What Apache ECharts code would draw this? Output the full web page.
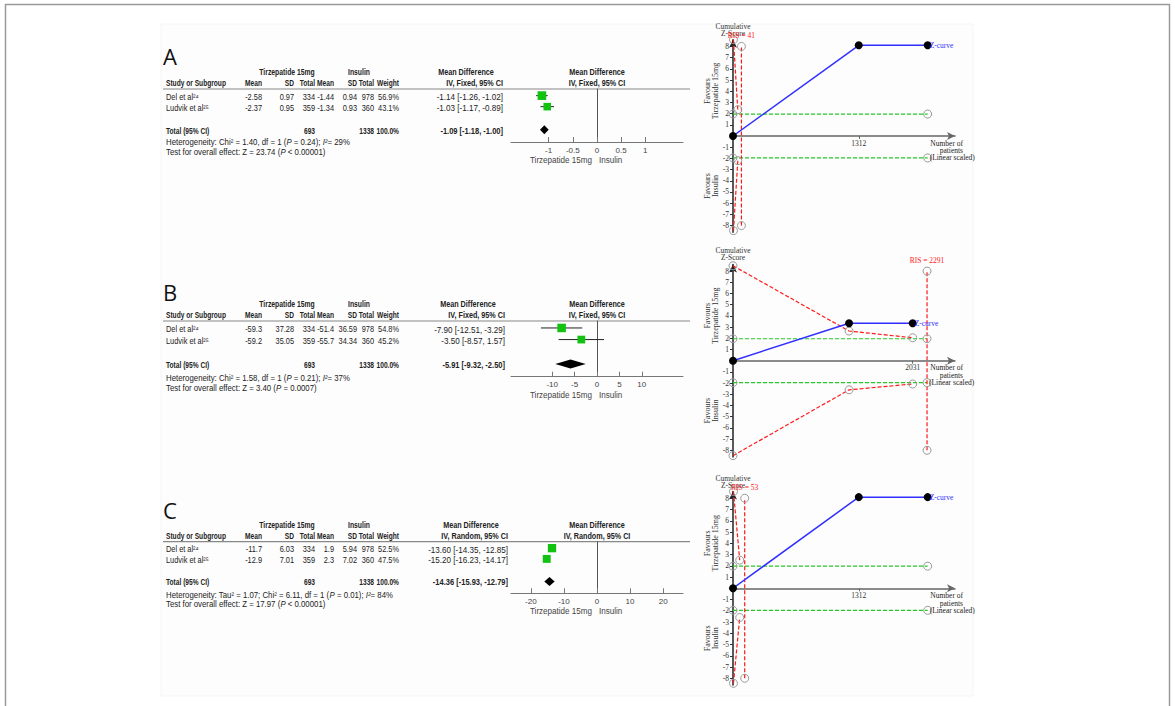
<!DOCTYPE html>
<html><head><meta charset="utf-8">
<script src="https://cdn.jsdelivr.net/npm/echarts@6/dist/echarts.min.js"></script>
<style>html,body{margin:0;padding:0;background:#fff}#c{width:1175px;height:706px}</style>
</head><body><div id="c"></div>
<script>
// ---------------- DATA ----------------
const studies = ['Del et al²⁴', 'Ludvik et al²⁵'];
const colHeaders = ['Study or Subgroup', 'Mean', 'SD', 'Total', 'Mean', 'SD', 'Total', 'Weight'];

// Panel A
const aTirzMean = [-2.58, -2.37], aTirzSD = [0.97, 0.95], aTirzN = [334, 359];
const aInsMean = [-1.44, -1.34], aInsSD = [0.94, 0.93], aInsN = [978, 360];
const aWeight = [56.9, 43.1];
const aMD = [-1.14, -1.03], aLo = [-1.26, -1.17], aHi = [-1.02, -0.89];
const aTotal = [-1.09, -1.18, -1.00];
const aTotN = [693, 1338];
const aHet = ['Chi² = 1.40, df = 1 (', 'P', ' = 0.24); ', 'I²', '= 29%'];
const aTest = ['Z = 23.74 (', 'P', ' < 0.00001)'];
const aTicks = [-1, -0.5, 0, 0.5, 1];

// Panel B
const bTirzMean = [-59.3, -59.2], bTirzSD = [37.28, 35.05], bTirzN = [334, 359];
const bInsMean = [-51.4, -55.7], bInsSD = [36.59, 34.34], bInsN = [978, 360];
const bWeight = [54.8, 45.2];
const bMD = [-7.90, -3.50], bLo = [-12.51, -8.57], bHi = [-3.29, 1.57];
const bTotal = [-5.91, -9.32, -2.50];
const bTotN = [693, 1338];
const bHet = ['Chi² = 1.58, df = 1 (', 'P', ' = 0.21); ', 'I²', '= 37%'];
const bTest = ['Z = 3.40 (', 'P', ' = 0.0007)'];
const bTicks = [-10, -5, 0, 5, 10];

// Panel C
const cTirzMean = [-11.7, -12.9], cTirzSD = [6.03, 7.01], cTirzN = [334, 359];
const cInsMean = [1.9, 2.3], cInsSD = [5.94, 7.02], cInsN = [978, 360];
const cWeight = [52.5, 47.5];
const cMD = [-13.60, -15.20], cLo = [-14.35, -16.23], cHi = [-12.85, -14.17];
const cTotal = [-14.36, -15.93, -12.79];
const cTotN = [693, 1338];
const cHet = ['Tau² = 1.07; Chi² = 6.11, df = 1 (', 'P', ' = 0.01); ', 'I²', '= 84%'];
const cTest = ['Z = 17.97 (', 'P', ' < 0.00001)'];
const cTicks = [-20, -10, 0, 10, 20];

// Trial sequential analysis
const tsaPatients = [0, 1312, 2031];
const aZ = [0, 8.1, 8.1];
const bZ = [0, 3.35, 3.35];
const cZ = [0, 8.1, 8.1];
const aBoundX = [5, 50], aUpper = [8.6, 2.35], aLower = [-8.45, -2.2];
const bBoundX = [0, 1312, 2031], bUpper = [8.48, 2.65, 2.05], bLower = [-8.48, -2.6, -2.08];
const cBoundX = [5, 70], cUpper = [8.6, 2.5], cLower = [-8.45, -2.6];
const risLabel = [41, 2291, 53];
const risLinePos = [88, 2193, 122];
const greenEnd = [2031, 2193, 2031];
const tsaTickX = [[1312], [2031], [1312]];
const zTicks = [-8, -7, -6, -5, -4, -3, -2, -1, 0, 1, 2, 3, 4, 5, 6, 7, 8];
const zLabels = [-8, -7, -6, -5, -4, -3, -2, -1, 1, 2, 3, 4, 5, 6, 7, 8];

// ---------------- LAYOUT ----------------
const SANS = '"Liberation Sans", Arial, sans-serif';
const SERIF = '"Liberation Serif", "Times New Roman", serif';
const SX_HEAD = 0.78, SX_VAL = 0.87, SX_MD = 0.95, SX_NOTE = 0.92;
const ROW_MIN = 0.4, ROW_MAX = 5.2, ROWS = [1, 2], TOTAL_ROW = 4.1;
const COL = {study: 166, tMean: 262, tSD: 294, tN: 315, iMean: 334, iSD: 357, iN: 374, w: 399,
  tCenter: 287, iCenter: 359, fLeft: 511, fWidth: 172, lineL: 163, lineR: 690};
const panels = [
  {letter: 'A', letterY: 56, h1: 72.5, h2: 83.5, Lh: 89, Ly: 142, het: 142.5, test: 152, model: 'Fixed', mdR: 503,
   tirzMean: aTirzMean, tirzSD: aTirzSD, tirzN: aTirzN, insMean: aInsMean, insSD: aInsSD, insN: aInsN,
   weight: aWeight, md: aMD, lo: aLo, hi: aHi, total: aTotal, totN: aTotN, hetT: aHet, testT: aTest,
   ticks: aTicks, xr: 1.78, meanDec: 2,
   tTop: 39.7, tH: 192.6, tMax: 2316, z: aZ, bx: aBoundX, up: aUpper, lw: aLower},
  {letter: 'B', letterY: 292, h1: 304, h2: 315, Lh: 321, Ly: 376.7, het: 378, test: 388, model: 'Fixed', mdR: 505,
   tirzMean: bTirzMean, tirzSD: bTirzSD, tirzN: bTirzN, insMean: bInsMean, insSD: bInsSD, insN: bInsN,
   weight: bWeight, md: bMD, lo: bLo, hi: bHi, total: bTotal, totN: bTotN, hetT: bHet, testT: bTest,
   ticks: bTicks, xr: 19.2, meanDec: 1,
   tTop: 264.4, tH: 192.6, tMax: 2509, z: bZ, bx: bBoundX, up: bUpper, lw: bLower},
  {letter: 'C', letterY: 510, h1: 525, h2: 536, Lh: 541.7, Ly: 593.3, het: 595, test: 604.5, model: 'Random', mdR: 508,
   tirzMean: cTirzMean, tirzSD: cTirzSD, tirzN: cTirzN, insMean: cInsMean, insSD: cInsSD, insN: cInsN,
   weight: cWeight, md: cMD, lo: cLo, hi: cHi, total: cTotal, totN: cTotN, hetT: cHet, testT: cTest,
   ticks: cTicks, xr: 26, meanDec: 1,
   tTop: 491.5, tH: 193.5, tMax: 2316, z: cZ, bx: cBoundX, up: cUpper, lw: cLower}
];

const grids = [], xAxes = [], yAxes = [], series = [], graphics = [];
function addText(x, y, text, opt, extra) {
  const st = Object.assign({text: text, fontSize: 8.5, fontFamily: SANS, fill: '#222',
    align: 'left', verticalAlign: 'middle'}, opt || {});
  st.textAlign = st.align; st.textVerticalAlign = st.verticalAlign;
  graphics.push(Object.assign({type: 'text', x: x, y: y, silent: true, z: 10, style: st}, extra || {}));
}
function tText(x, y, text, opt, sx) { addText(x, y, text, opt, {scaleX: sx}); }
function addLine(x1, y1, x2, y2, color, w) {
  graphics.push({type: 'line', silent: true, shape: {x1: x1, y1: y1, x2: x2, y2: y2},
    style: {stroke: color, lineWidth: w}});
}
const fmtMD = (m, l, h) => m.toFixed(2) + ' [' + l.toFixed(2) + ', ' + h.toFixed(2) + ']';

// frame
graphics.push({type: 'rect', silent: true, z: -10, shape: {x: 161, y: 24, width: 812, height: 672},
  style: {fill: '#fdfdfd', stroke: '#f5f5f5', lineWidth: 1}});
graphics.push({type: 'rect', silent: true, shape: {x: 5.5, y: 4.5, width: 1164, height: 720},
  style: {fill: 'none', stroke: '#9a9a9a', lineWidth: 1.5}});

panels.forEach((P, k) => {
  const fg = k * 2, tg = k * 2 + 1;
  const rowPix = idx => P.Lh + (idx - ROW_MIN) / (ROW_MAX - ROW_MIN) * (P.Ly - P.Lh);
  const B = (al) => ({fontWeight: 'bold', align: al || 'left'});
  const R = {align: 'right'};
  const mdCenter = P.mdR - 37;
  const fCenter = COL.fLeft + COL.fWidth / 2;
  addText(163, P.letterY, P.letter, {fontSize: 22, fontFamily: '"Open Sans", "Liberation Sans", sans-serif', fill: '#111'});
  tText(COL.tCenter, P.h1, 'Tirzepatide 15mg', B('center'), 0.8);
  tText(COL.iCenter, P.h1, 'Insulin', B('center'), 0.8);
  tText(mdCenter, P.h1, 'Mean Difference', B('center'), 0.85);
  tText(fCenter, P.h1, 'Mean Difference', B('center'), 0.85);
  const hx = [COL.study, COL.tMean, COL.tSD, COL.tN, COL.iMean, COL.iSD, COL.iN, COL.w];
  colHeaders.forEach((h, i) => tText(hx[i], P.h2, h, B(i === 0 ? 'left' : 'right'), SX_HEAD));
  const ivTxt = 'IV, ' + P.model + ', 95% CI';
  tText(P.mdR, P.h2, ivTxt, B('right'), 0.85);
  tText(fCenter, P.h2, ivTxt, B('center'), 0.85);
  addLine(COL.lineL, P.Lh, COL.lineR, P.Lh, '#888', 1.2);
  studies.forEach((s, i) => {
    const y = rowPix(ROWS[i]) + 1.5;
    tText(COL.study, y, s, {}, SX_VAL);
    tText(COL.tMean, y, P.tirzMean[i].toFixed(P.meanDec), R, SX_VAL);
    tText(COL.tSD, y, P.tirzSD[i].toFixed(2), R, SX_VAL);
    tText(COL.tN, y, String(P.tirzN[i]), R, SX_VAL);
    tText(COL.iMean, y, P.insMean[i].toFixed(P.meanDec), R, SX_VAL);
    tText(COL.iSD, y, P.insSD[i].toFixed(2), R, SX_VAL);
    tText(COL.iN, y, String(P.insN[i]), R, SX_VAL);
    tText(COL.w, y, P.weight[i].toFixed(1) + '%', R, SX_VAL);
    tText(P.mdR, y, fmtMD(P.md[i], P.lo[i], P.hi[i]), R, SX_MD);
  });
  const ty = rowPix(TOTAL_ROW) + 1;
  tText(COL.study, ty, 'Total (95% CI)', B('left'), SX_HEAD);
  tText(COL.tN, ty, String(P.totN[0]), B('right'), SX_HEAD);
  tText(COL.iN, ty, String(P.totN[1]), B('right'), SX_HEAD);
  tText(COL.w, ty, '100.0%', B('right'), SX_HEAD);
  tText(P.mdR, ty, fmtMD(P.total[0], P.total[1], P.total[2]), B('right'), SX_MD * 0.93);
  const rich = {i: {fontStyle: 'italic', fontSize: 8.5, fontFamily: SANS, fill: '#222'},
                n: {fontSize: 8.5, fontFamily: SANS, fill: '#222'}};
  const h = P.hetT;
  tText(COL.study, P.het, '{n|Heterogeneity: ' + h[0] + '}{i|' + h[1] + '}{n|' + h[2] + '}{i|' + h[3] + '}{n|' + h[4] + '}', {rich: rich}, SX_NOTE);
  const t = P.testT;
  tText(COL.study, P.test, '{n|Test for overall effect: ' + t[0] + '}{i|' + t[1] + '}{n|' + t[2] + '}', {rich: rich}, SX_NOTE);
  tText(fCenter - 5, P.Ly + 18, 'Tirzepatide 15mg', {align: 'right', fill: '#444'}, 0.95);
  tText(fCenter + 2, P.Ly + 18, 'Insulin', {fill: '#444'}, 0.95);

  // ---- forest grid ----
  grids.push({left: COL.fLeft, top: P.Lh, width: COL.fWidth, height: P.Ly - P.Lh});
  xAxes.push({gridIndex: fg, type: 'value', min: -P.xr, max: P.xr, position: 'bottom',
    axisLine: {onZero: false, lineStyle: {color: '#777', width: 1}},
    axisTick: {customValues: P.ticks, inside: true, length: 5, lineStyle: {color: '#777'}},
    axisLabel: {customValues: P.ticks, fontSize: 8, fontFamily: SANS, color: '#444', margin: 4, formatter: v => String(v)},
    splitLine: {show: false}});
  yAxes.push({gridIndex: fg, type: 'value', inverse: true, min: ROW_MIN, max: ROW_MAX,
    axisLine: {show: true, onZero: true, lineStyle: {color: '#555', width: 1}},
    axisTick: {show: false}, axisLabel: {show: false}, splitLine: {show: false}});
  series.push({type: 'custom', xAxisIndex: fg, yAxisIndex: fg, clip: false, z: 5,
    encode: {x: 0, y: 1},
    data: P.md.map((m, i) => [m, ROWS[i], P.lo[i], P.hi[i], P.weight[i]]),
    renderItem: function (params, api) {
      const c = api.coord([api.value(0), api.value(1)]);
      const l = api.coord([api.value(2), api.value(1)]);
      const r = api.coord([api.value(3), api.value(1)]);
      const s = 11.5 * Math.sqrt(api.value(4) / 100);
      return {type: 'group', children: [
        {type: 'line', shape: {x1: l[0], y1: c[1], x2: r[0], y2: c[1]}, style: {stroke: '#222', lineWidth: 1}},
        {type: 'rect', shape: {x: c[0] - s / 2, y: c[1] - s / 2, width: s, height: s}, style: {fill: '#11c211'}}
      ]};
    }});
  series.push({type: 'custom', xAxisIndex: fg, yAxisIndex: fg, clip: false, z: 5,
    encode: {x: 0, y: 1},
    data: [[P.total[0], TOTAL_ROW, P.total[1], P.total[2]]],
    renderItem: function (params, api) {
      const c = api.coord([api.value(0), api.value(1)]);
      const l = api.coord([api.value(2), api.value(1)]);
      const r = api.coord([api.value(3), api.value(1)]);
      const hh = 4.5;
      return {type: 'polygon', shape: {points: [[l[0], c[1]], [c[0], c[1] - hh], [r[0], c[1]], [c[0], c[1] + hh]]},
        style: {fill: '#000'}};
    }});

  // ---- TSA grid ----
  grids.push({left: 733, top: P.tTop, width: 222, height: P.tH});
  xAxes.push({gridIndex: tg, type: 'value', min: 0, max: P.tMax, position: 'bottom', offset: -P.tH / 2,
    axisLine: {onZero: false, symbol: ['none', 'arrow'], symbolSize: [6, 8], lineStyle: {color: '#666', width: 1.5}},
    axisTick: {customValues: tsaTickX[k], length: 3, lineStyle: {color: '#666'}},
    axisLabel: {customValues: tsaTickX[k], fontSize: 7.5, fontFamily: SERIF, color: '#333', margin: 3, formatter: v => String(v)},
    splitLine: {show: false}});
  yAxes.push({gridIndex: tg, type: 'value', min: -8.6, max: 8.6,
    name: 'Cumulative\nZ-Score', nameLocation: 'end', nameGap: 3,
    nameTextStyle: {fontSize: 7.5, fontFamily: SERIF, color: '#333', align: 'center', lineHeight: 7},
    axisLine: {onZero: false, symbol: ['none', 'arrow'], symbolSize: [6, 8], lineStyle: {color: '#222', width: 1.5}},
    axisTick: {customValues: zTicks, length: 3, lineStyle: {color: '#333'}},
    axisLabel: {customValues: zLabels, fontSize: 7.5, fontFamily: SERIF, color: '#333', margin: 4, formatter: v => String(v)},
    splitLine: {show: false}});
  const zeroY = P.tTop + P.tH / 2;
  const tsaTxt = {fontSize: 8, fontFamily: SERIF, fill: '#333', align: 'center', lineHeight: 8};
  addText(711, zeroY - 45, 'Favours\nTirzepatide 15mg', tsaTxt, {rotation: Math.PI / 2});
  addText(711, zeroY + 50, 'Favours\nInsulin', tsaTxt, {rotation: Math.PI / 2});
  addText(963, zeroY + 11, 'Number of\npatients', {fontSize: 7.5, fontFamily: SERIF, fill: '#222', align: 'right', lineHeight: 7.5});

  const redLine = {color: '#ff1a1a', width: 1.2, type: [4, 2]};
  const circ = {color: 'rgba(255,255,255,0)', borderColor: '#999', borderWidth: 1};
  const common = {xAxisIndex: tg, yAxisIndex: tg, type: 'line', clip: false, symbol: 'circle', symbolSize: 8,
    itemStyle: circ, silent: true};
  series.push(Object.assign({}, common, {data: [[0, 1.96], [greenEnd[k], 1.96]],
    lineStyle: {color: '#22cc22', width: 1.2, type: [4, 2]}}));
  series.push(Object.assign({}, common, {data: [[0, -1.96], [greenEnd[k], -1.96]],
    lineStyle: {color: '#22cc22', width: 1.2, type: [4, 2]},
    endLabel: {show: true, formatter: '(Linear scaled)', color: '#222', fontSize: 7.5, fontFamily: SERIF, distance: 2}}));
  series.push(Object.assign({}, common, {data: P.bx.map((x, i) => [x, P.up[i]]), lineStyle: redLine}));
  series.push(Object.assign({}, common, {data: P.bx.map((x, i) => [x, P.lw[i]]), lineStyle: redLine}));
  series.push(Object.assign({}, common, {data: [[risLinePos[k], -8],
    {value: [risLinePos[k], 8], label: {show: true, position: 'top', distance: 2, formatter: 'RIS = ' + risLabel[k],
      color: '#ff1a1a', fontSize: 7.5, fontFamily: SERIF}}], lineStyle: redLine}));
  series.push({type: 'line', xAxisIndex: tg, yAxisIndex: tg, clip: false, z: 6, silent: true,
    data: tsaPatients.map((x, i) => [x, P.z[i]]),
    symbol: 'circle', symbolSize: 8, itemStyle: {color: '#000'},
    lineStyle: {color: '#2f2fff', width: 1.5},
    endLabel: {show: true, formatter: 'Z-curve', color: '#3030ff', fontSize: 7.5, fontFamily: SERIF, distance: 2}});
});

const chart = echarts.init(document.getElementById('c'), null, {renderer: 'svg'});
chart.setOption({animation: false, backgroundColor: '#fff', grid: grids, xAxis: xAxes, yAxis: yAxes,
  series: series, graphic: {elements: graphics}});
</script></body></html>
